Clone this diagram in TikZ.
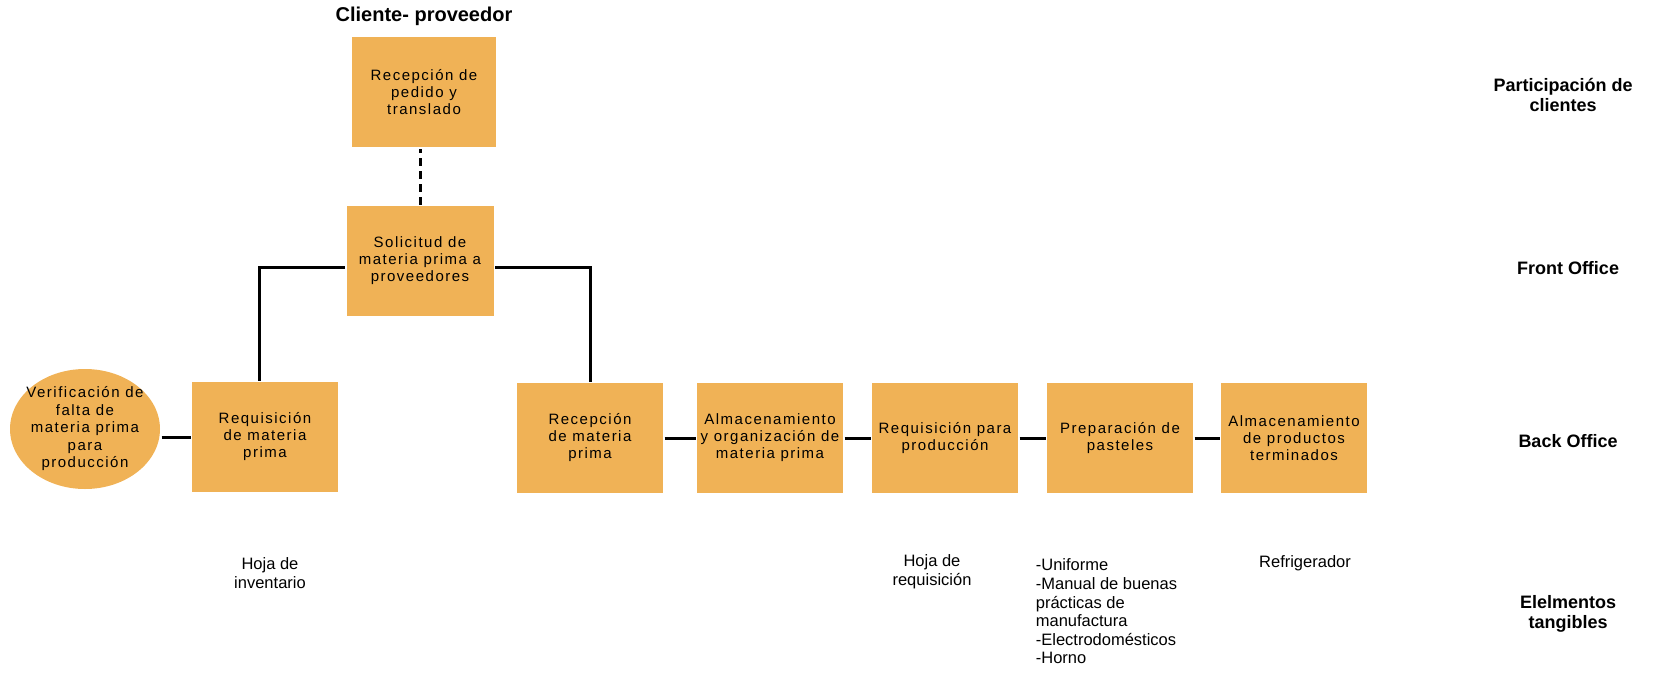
\documentclass[tikz,border=0pt]{standalone}
\usepackage{fontspec}
\setmainfont{Liberation Sans}
\newfontfamily\boxfont{Liberation Sans}[LetterSpace=10]
\usetikzlibrary{shapes.geometric}
\definecolor{stagefill}{RGB}{240,178,86}

\begin{document}
\begin{tikzpicture}[
    x = 1pt, y = -1pt,
    line width = 3pt,
    activity/.style = {rectangle,
      fill = stagefill,
      minimum width = 146pt,
      minimum height = 110pt,
      inner sep = 0pt,
      align = center,
      font = \boxfont\fontsize{15}{17}\selectfont},
    start/.style = {ellipse,
      fill = stagefill,
      minimum width = 150pt,
      minimum height = 120pt,
      inner xsep = -12pt,
      inner ysep = -2pt,
      align = center,
      font = \boxfont\fontsize{15}{17.5}\selectfont},
    lane/.style = {align = center,
      font = \bfseries\fontsize{18}{20}\selectfont},
    tangible/.style = {align = center,
      font = \fontsize{16.5}{18.6}\selectfont}
    ]

    \useasboundingbox (0, 0) rectangle (1661, 675);

    \node at (424, 16) [lane, font = \bfseries\fontsize{20}{22}\selectfont,
      name = cp] {Cliente- proveedor};
    \node at (424, 92) [activity, minimum width = 144pt, name = pedido]
      {Recepción de\\pedido y\\translado};
    \node at (420, 261) [activity, minimum width = 147pt, name = solicitud]
      {Solicitud de\\materia prima a\\proveedores};

    \node at (85, 429) [start, name = verif]
      {Verificación de\\falta de\\materia prima\\para\\producción};
    \node at (265, 437) [activity, name = reqmp]
      {Requisición\\de materia\\prima};
    \node at (590, 438) [activity, name = recmp]
      {Recepción\\de materia\\prima};
    \node at (770, 438) [activity, name = almmp]
      {Almacenamiento\\y organización de\\materia prima};
    \node at (945, 438) [activity, name = reqprod]
      {Requisición para\\producción};
    \node at (1120, 438) [activity, name = prep]
      {Preparación de\\pasteles};
    \node at (1294, 438) [activity, name = almprod]
      {Almacenamiento\\de productos\\terminados};

    % lineas de contacto
    \draw [dashed, dash pattern = on 8pt off 5pt]
    (solicitud.north) to (solicitud.north |- pedido.south);
    \draw ([xshift = -6pt]reqmp.north) |- ([yshift = -6pt]solicitud.west);
    \draw ([yshift = -6pt]solicitud.east) -| (recmp.north);
    \draw (verif.east |- reqmp.west) to (reqmp.west);
    \draw (recmp) to (almmp);
    \draw (almmp) to (reqprod);
    \draw (reqprod) to (prep);
    \draw (prep) to (almprod);

    % elementos tangibles
    \node at (270, 573) [tangible, name = hojainv] {Hoja de\\inventario};
    \node at (932, 572) [tangible, name = hojareq] {Hoja de\\requisición};
    \node at (1031, 554) [tangible, anchor = north west, align = left,
      name = equipo]
      {-Uniforme\\-Manual de buenas\\prácticas de\\manufactura\\-Electrodomésticos\\-Horno};
    \node at (1305, 563) [tangible, name = refri] {Refrigerador};

    % carriles
    \node at (1563, 95) [lane, name = clientes] {Participación de\\clientes};
    \node at (1568, 268) [lane, name = front] {Front Office};
    \node at (1568, 441) [lane, name = back] {Back Office};
    \node at (1568, 614) [lane, name = tangibles] {Elelmentos\\tangibles};
  \end{tikzpicture}
\end{document}
